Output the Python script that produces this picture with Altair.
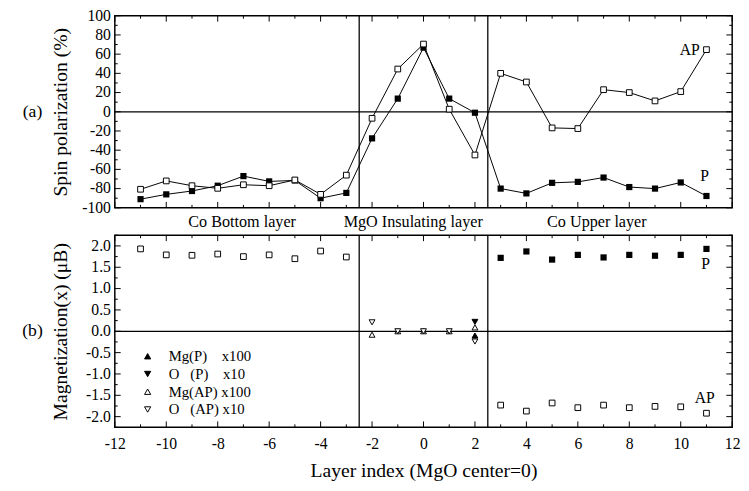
import altair as alt
import pandas as pd

FONT = "Liberation Serif"
W, H = 630, 196
GAP = 28

# ---------------- data ----------------
layer_x = [-11, -10, -9, -8, -7, -6, -5, -4, -3, -2, -1, 0, 1, 2, 3, 4, 5, 6, 7, 8, 9, 10, 11]
spin_P = [-91, -86, -82.5, -77, -67, -72.5, -71.5, -90, -84.5,
          -27.7, 13.7, 66.8, 13.7, -1,
          -80, -85, -74, -73, -68.5, -78.4, -80, -73.6, -87.7]
spin_AP = [-80.7, -72, -77, -79.7, -76, -77, -71, -86, -66,
           -6.8, 44.5, 70.5, 2.7, -45,
           40, 31, -16.8, -17.5, 23, 20, 11.3, 21, 64.7]

mag_left_x = [-11, -10, -9, -8, -7, -6, -5, -4, -3]
mag_left = [1.93, 1.79, 1.78, 1.81, 1.75, 1.79, 1.70, 1.88, 1.74]
mag_right_x = [3, 4, 5, 6, 7, 8, 9, 10, 11]
mag_P_right = [1.72, 1.87, 1.68, 1.79, 1.73, 1.79, 1.77, 1.79, 1.93]
mag_AP_right = [-1.73, -1.87, -1.68, -1.79, -1.73, -1.79, -1.76, -1.77, -1.92]

NB = "\u00a0"
tri_names = ["Mg(P)" + NB * 4 + "x100",
             "O" + NB * 3 + "(P)" + NB * 4 + "x10",
             "Mg(AP)" + NB + "x100",
             "O" + NB * 3 + "(AP)" + NB + "x10"]
tri_series = [tri_names[0], tri_names[1],
              tri_names[2], tri_names[2], tri_names[2], tri_names[2], tri_names[2],
              tri_names[3], tri_names[3], tri_names[3], tri_names[3], tri_names[3]]
tri_x = [2, 2, -2, -1, 0, 1, 2, -2, -1, 0, 1, 2]
tri_v = [-0.10, 0.22, -0.08, 0.0, 0.0, 0.0, 0.09, 0.21, 0.0, 0.0, 0.0, -0.24]

x_major = [-12, -10, -8, -6, -4, -2, 0, 2, 4, 6, 8, 10, 12]
x_minor = [-11, -9, -7, -5, -3, -1, 1, 3, 5, 7, 9, 11]
top_major = [-100, -80, -60, -40, -20, 0, 20, 40, 60, 80, 100]
top_labels = ["-100", "-80", "-60", "-40", "-20", "0", "20", "40", "60", "80", "100"]
top_minor = [-90, -70, -50, -30, -10, 10, 30, 50, 70, 90]
bot_major = [-2.0, -1.5, -1.0, -0.5, 0.0, 0.5, 1.0, 1.5, 2.0]
bot_labels = ["-2.0", "-1.5", "-1.0", "-0.5", "0.0", "0.5", "1.0", "1.5", "2.0"]
bot_minor = [-2.25, -1.75, -1.25, -0.75, -0.25, 0.25, 0.75, 1.25, 1.75, 2.25]

region_labels = ["Co Bottom layer", "MgO Insulating layer", "Co Upper layer"]
region_x = [-7.05, -0.4, 6.74]
boundaries = [-2.5, 2.5]

xscale = alt.Scale(domain=[-12, 12], nice=False, zero=False)
ytop = alt.Scale(domain=[-100, 100], nice=False, zero=False)
ybot = alt.Scale(domain=[-2.25, 2.25], nice=False, zero=False)
MINUS = "replace(datum.label, '\u2212', '-')"


def X():
    return alt.X("x:Q", scale=xscale)


def Y(sc):
    return alt.Y("v:Q", scale=sc)


def ticks(yscale, ymaj, ymin):
    layers = []
    for vals, ln in ((x_major, 6), (x_minor, 3)):
        df = pd.DataFrame({"x": vals})
        layers.append(alt.Chart(df).mark_rule(color="black", strokeWidth=1).encode(
            x=X(), y=alt.value(H), y2=alt.value(H - ln)))
        layers.append(alt.Chart(df).mark_rule(color="black", strokeWidth=1).encode(
            x=X(), y=alt.value(0), y2=alt.value(ln)))
    for vals, ln in ((ymaj, 6), (ymin, 3)):
        df = pd.DataFrame({"v": vals})
        layers.append(alt.Chart(df).mark_rule(color="black", strokeWidth=1).encode(
            y=Y(yscale), x=alt.value(0), x2=alt.value(ln)))
        layers.append(alt.Chart(df).mark_rule(color="black", strokeWidth=1).encode(
            y=Y(yscale), x=alt.value(W), x2=alt.value(W - ln)))
    return layers


def ylabels(vals, labels, yscale):
    df = pd.DataFrame({"v": vals, "t": labels})
    return alt.Chart(df).mark_text(font=FONT, fontSize=16, align="right", baseline="middle",
                                   color="black").encode(y=Y(yscale), x=alt.value(-4), text="t:N")


def guides(yscale):
    vr = alt.Chart(pd.DataFrame({"x": boundaries})).mark_rule(color="black", strokeWidth=1.3).encode(x=X())
    hr = alt.Chart(pd.DataFrame({"v": [0]})).mark_rule(color="black", strokeWidth=1.3).encode(y=Y(yscale))
    return [vr, hr]


def text_layer(df, sc, size, align="center"):
    return alt.Chart(df).mark_text(font=FONT, fontSize=size, align=align, baseline="middle",
                                   color="black").encode(x=X(), y=Y(sc), text="t:N")


# ---------------- top panel ----------------
top_df = pd.DataFrame({"x": layer_x * 2, "v": spin_P + spin_AP,
                       "s": ["P"] * len(layer_x) + ["AP"] * len(layer_x)})

x_top = alt.X("x:Q", scale=xscale, axis=alt.Axis(labels=False, title=None, values=x_major))
y_top = alt.Y("v:Q", scale=ytop, axis=alt.Axis(values=top_major, labels=False,
                                               title="Spin polarization (%)", titlePadding=45))

top_lines = alt.Chart(top_df).mark_line(color="black", strokeWidth=1).encode(
    x=x_top, y=y_top, detail="s:N")
top_P = alt.Chart(top_df[top_df.s == "P"]).mark_point(
    shape="square", filled=True, color="black", size=40, opacity=1).encode(x=X(), y=Y(ytop))
top_AP = alt.Chart(top_df[top_df.s == "AP"]).mark_point(
    shape="square", fill="white", stroke="black", strokeWidth=1, size=34, opacity=1).encode(x=X(), y=Y(ytop))

top_text = text_layer(pd.DataFrame({"x": [10.74], "v": [64], "t": ["AP"]}), ytop, 16, "right")
top_text2 = text_layer(pd.DataFrame({"x": [10.93], "v": [-67], "t": ["P"]}), ytop, 16)
region = text_layer(pd.DataFrame({"x": region_x, "v": [-115] * 3, "t": region_labels}), ytop, 16.5)
lab_a = text_layer(pd.DataFrame({"x": [-15.2], "v": [0], "t": ["(a)"]}), ytop, 18)

top = alt.layer(top_lines, *guides(ytop), top_P, top_AP, top_text, top_text2, region, lab_a,
                ylabels(top_major, top_labels, ytop),
                *ticks(ytop, top_major, top_minor)).properties(width=W, height=H)

# ---------------- bottom panel ----------------
sq_open = pd.DataFrame({"x": mag_left_x + mag_right_x, "v": mag_left + mag_AP_right})
sq_fill = pd.DataFrame({"x": mag_right_x, "v": mag_P_right})
tri_df = pd.DataFrame({"x": tri_x, "v": tri_v, "s": tri_series})

x_bot = alt.X("x:Q", scale=xscale, axis=alt.Axis(values=x_major, format="d", labelExpr=MINUS,
                                                 labelOverlap=False, labelFlush=False,
                                                 title="Layer index (MgO center=0)", labelPadding=9,
                                                 titlePadding=9))
y_bot = alt.Y("v:Q", scale=ybot, axis=alt.Axis(values=bot_major, labels=False,
                                               title="Magnetization(x) (\u03bcB)", titlePadding=45))

b_open = alt.Chart(sq_open).mark_point(shape="square", fill="white", stroke="black", strokeWidth=1,
                                       size=34, opacity=1).encode(x=x_bot, y=y_bot)
b_fill = alt.Chart(sq_fill).mark_point(shape="square", filled=True, color="black", size=40,
                                       opacity=1).encode(x=X(), y=Y(ybot))
leg = alt.Legend(title=None, orient="none", legendX=26, legendY=H + GAP + 116, labelFont=FONT,
                 labelFontSize=15, labelColor="black", symbolSize=40, symbolStrokeColor="black",
                 symbolStrokeWidth=1, rowPadding=2.1, labelOffset=14, padding=0)
b_tri = alt.Chart(tri_df).mark_point(size=36, opacity=1, strokeWidth=1).encode(
    x=X(), y=Y(ybot),
    shape=alt.Shape("s:N", scale=alt.Scale(domain=tri_names,
                                           range=["triangle-up", "triangle-down", "triangle-up", "triangle-down"]),
                    legend=leg),
    fill=alt.Fill("s:N", scale=alt.Scale(domain=tri_names, range=["black", "black", "white", "white"]),
                  legend=leg),
    stroke=alt.Stroke("s:N", scale=alt.Scale(domain=tri_names, range=["black", "black", "black", "black"]),
                      legend=leg),
)
b_text = text_layer(pd.DataFrame({"x": [10.97, 10.93], "v": [1.57, -1.56], "t": ["P", "AP"]}), ybot, 16)
lab_b = text_layer(pd.DataFrame({"x": [-15.2], "v": [0], "t": ["(b)"]}), ybot, 18)

bottom = alt.layer(b_open, *guides(ybot), b_fill, b_tri, b_text, lab_b,
                   ylabels(bot_major, bot_labels, ybot),
                   *ticks(ybot, bot_major, bot_minor)).properties(width=W, height=H)

chart = alt.vconcat(top, bottom, spacing=GAP, bounds="flush").properties(
    padding={"left": 13, "top": -6, "right": 0, "bottom": 0}
).configure_view(stroke="black", strokeWidth=1.5).configure_axis(
    labelFont=FONT, labelFontSize=16, labelColor="black", titleFont=FONT, titleFontSize=20,
    titleFontWeight="normal", titleColor="black", domain=False, ticks=False, grid=False, labelPadding=4,
    labelOverlap=False
).configure_legend(labelFont=FONT)

chart.save("out.html", embed_options={"renderer": "svg", "actions": False})
